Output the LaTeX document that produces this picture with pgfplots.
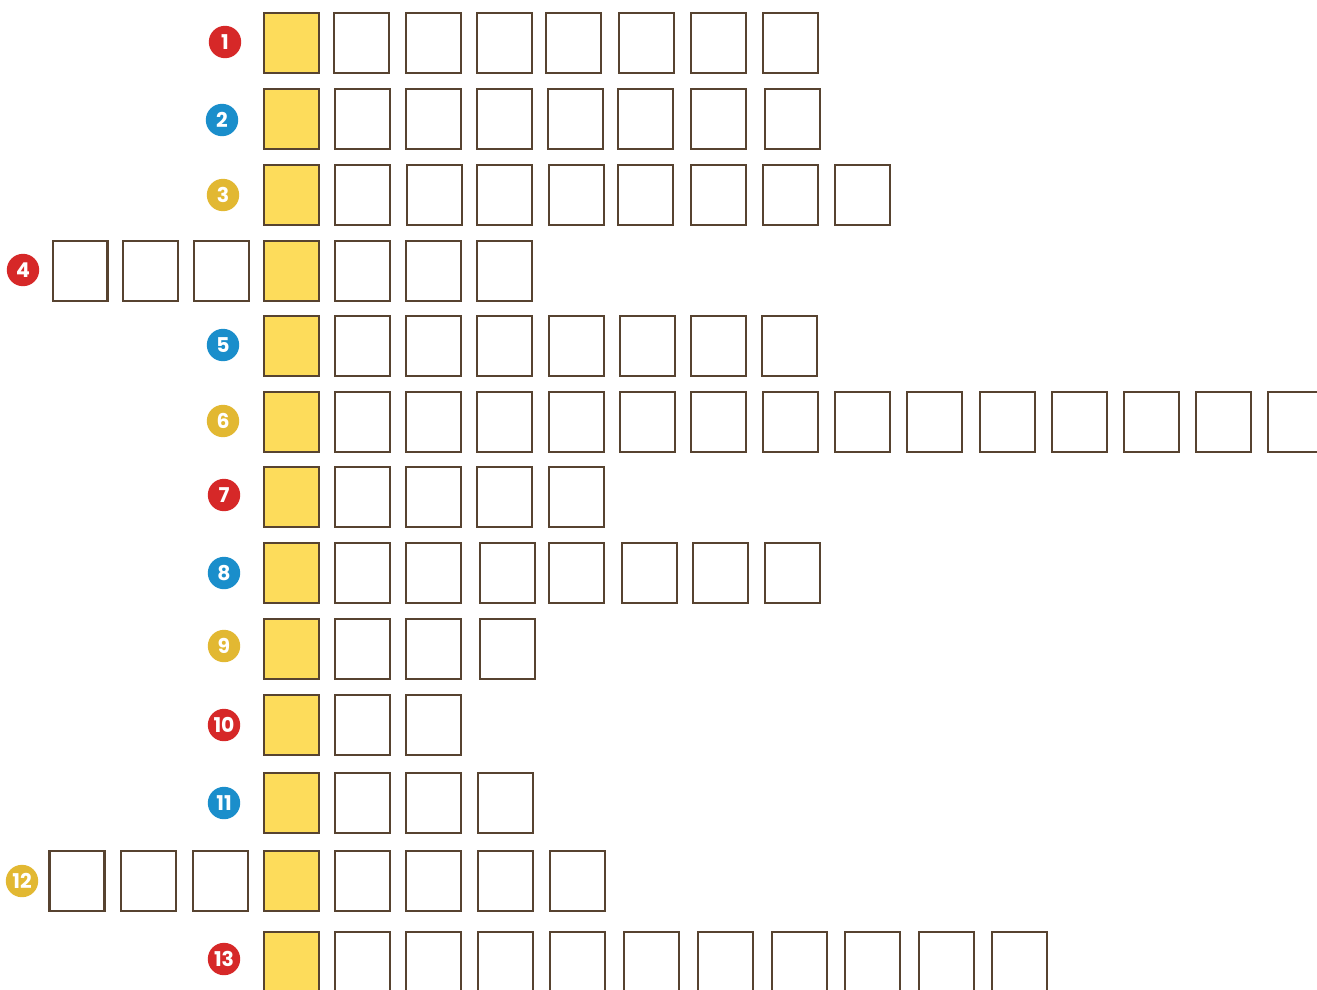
\documentclass[border=0pt]{standalone}
\usepackage{pgfplots}
\pgfplotsset{compat=1.18}
\usepackage{fontspec}
\setmainfont{Poppins}
\definecolor{cellborder}{HTML}{574330}
\definecolor{cellyellow}{HTML}{FDDC5B}
\definecolor{numred}{HTML}{D62828}
\definecolor{numblue}{HTML}{1A8ECB}
\definecolor{numgold}{HTML}{E2B832}
\begin{document}
\begin{tikzpicture}
\begin{axis}[
  scale only axis, width=13.17cm, height=9.89cm,
  xmin=0, xmax=1317, ymin=0, ymax=989, y dir=reverse,
  hide axis, clip=true, clip marker paths=true,
]
% white cells: centre x, centre y (px from top-left)
\addplot[only marks, mark=square*, mark size=0.275cm,
  mark options={yscale=1.09, fill=white, draw=cellborder, line width=0.57pt}]
table {
x y
361.5 43
433 43
504 43
573 43
646 43
718 43
790 43
362 119
433 119
504 119
575 119
645 119
718 119
792 119
362 195
434 195
504 195
576 195
645 195
718 195
790 195
862 195
80 271
150 271
221 271
362 271
433 271
504.5 271
362 346
433 346
504.5 346
576 346
647 346
718 346
789 346
362 422
433 422
504 422
576 422
647 422
718 422
790 422
862 422
934 422
1007 422
1079 422
1151 422
1223 422
1295 422
362 497
433 497
504.5 497
576 497
362 573
433.5 573
507 573
576 573
649 573
720 573
792 573
362 649
433 649
507 649
362 725
433 725
362 803
433 803
505 803
77 881
148 881
220 881
362 881
433 881
505 881
577 881
362 962
433 962
505 962
577.5 962
651.5 962
725 962
799 962
872.5 962
946 962
1019.5 962
};
% yellow key column
\addplot[only marks, mark=square*, mark size=0.275cm,
  mark options={yscale=1.09, fill=cellyellow, draw=cellborder, line width=0.57pt}]
table {
x y
291.5 43
291.5 119
291.5 195
291.5 271
291.5 346
291.5 422
291.5 497
291.5 573
291.5 649
291.5 725
291.5 803
291.5 881
291.5 962
};
% numbered circles
\pgfplotsset{numstyle/.style={only marks, mark=*, mark size=0.155cm,
  color=#1, mark options={draw=#1, fill=#1},
  nodes near coords, point meta=explicit symbolic,
  nodes near coords align=center,
  every node near coord/.append style={anchor=center, text=white,
    font=\fontsize{5.8}{6}\selectfont\bfseries, inner sep=0pt}}}
\addplot[numstyle=numred] table[meta=n] {
x y n
225 42 1
23 270 4
224 495 7
224 725 10
224 959 13
};
\addplot[numstyle=numblue] table[meta=n] {
x y n
222 120 2
223 345 5
224 573 8
224 803 11
};
\addplot[numstyle=numgold] table[meta=n] {
x y n
223 195 3
223 421 6
224 646 9
22 881 12
};
\end{axis}
\pgfresetboundingbox
\path[use as bounding box] (current axis.south west) rectangle (current axis.north east);
\end{tikzpicture}
\end{document}
